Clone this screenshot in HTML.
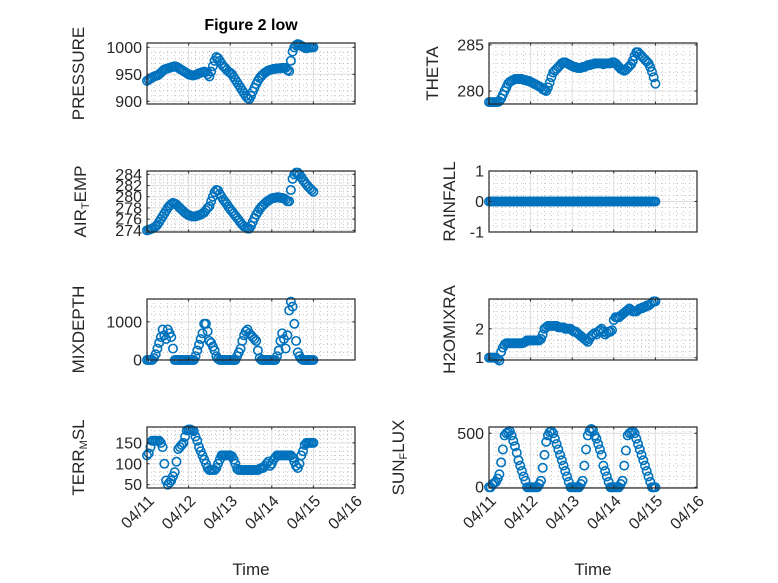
<!DOCTYPE html>
<html><head><meta charset="utf-8"><style>
body{margin:0;background:#fff;}
svg{display:block;font-family:"Liberation Sans",sans-serif;}
</style></head><body>
<svg id="fig" width="778" height="583" xmlns="http://www.w3.org/2000/svg">
<rect width="778" height="583" fill="#fff"/>
<text x="251" y="30" text-anchor="middle" font-size="16" font-weight="bold" fill="#000">Figure 2 low</text>
</svg>
<script>
const pressure=[938,940,942,944,946,947,948,
950,953,956,959,960,961,962,963,964,965,
964,962,960,958,956,954,952,950,949,948,948,
949,950,952,953,954,955,954,950,946,
955,965,975,982,
980,975,970,965,962,958,955,953,
950,945,940,935,930,925,920,915,910,906,904,
910,918,925,932,938,943,947,950,953,955,957,958,959,
960,960,961,961,961,962,962,962,958,956,
975,992,1000,1004,1006,
1005,1003,1001,999,998,999,1000,1000,1000];
const theta=[278.8,278.8,278.8,278.8,278.8,278.8,278.9,
279.2,279.6,280,280.4,280.8,281,281.1,281.2,
281.3,281.3,281.3,281.3,281.3,281.2,281.2,281.1,281.1,281,280.9,280.8,
280.7,280.6,280.5,280.4,280.2,280.1,280,280.4,
280.9,281.5,282,282.2,282.4,282.6,282.8,283,283.1,283.1,
283,282.9,282.8,282.7,282.6,282.6,282.5,282.5,282.5,282.6,
282.6,282.7,282.8,282.8,282.9,282.9,283,283,283,283,283,282.9,
283,283,283,283,283.1,283.1,283,282.8,282.6,282.4,282.3,282.2,282.3,
282.5,282.7,282.9,283.3,283.8,284.2,284.2,
284,283.8,283.6,283.4,283.2,283,282.6,282.1,281.5,280.8];
const airTemp=[274,274.1,274.2,274.3,274.5,274.7,275,
275.5,276,276.5,277,277.5,278,278.4,278.7,278.9,278.8,
278.6,278.3,278,277.7,277.4,277.1,276.9,276.7,276.6,276.5,276.5,
276.5,276.6,276.7,276.8,277,277.2,277.6,278,278.3,
279.2,280,280.8,281.2,
281.1,280.5,280,279.5,279.1,278.7,278.2,277.8,
277.4,277,276.6,276.2,275.8,275.4,275,274.7,274.5,274.3,274.3,
274.8,275.5,276.2,276.8,277.3,277.8,278.2,278.5,278.8,279.1,279.3,279.5,279.7,
279.8,279.8,279.9,279.9,279.8,279.8,279.7,279.5,279.2,279.2,
281.2,283.2,284,284.3,284.3,
284,283.5,283,282.6,282.2,281.8,281.5,281.2,280.9];
const rainfall=[0,0,0,0,0,0,0,0,0,0,0,0,0,0,0,0,0,0,0,0,0,0,0,0,
0,0,0,0,0,0,0,0,0,0,0,0,0,0,0,0,0,0,0,0,0,0,0,0,
0,0,0,0,0,0,0,0,0,0,0,0,0,0,0,0,0,0,0,0,0,0,0,0,
0,0,0,0,0,0,0,0,0,0,0,0,0,0,0,0,0,0,0,0,0,0,0,0,0];
const mixDepth=[0,0,0,0,
50,150,300,450,600,800,650,550,800,700,600,300,
0,0,0,0,0,0,0,0,0,0,0,0,
100,250,400,550,700,950,950,750,500,450,350,250,100,30,0,
0,0,0,0,0,0,0,0,0,
100,200,300,500,650,750,800,700,650,600,550,500,250,50,0,
0,0,0,0,0,0,0,0,
100,250,500,700,550,300,650,1300,1530,1400,950,500,200,100,30,0,
0,0,0,0,0,0];
const h2oMixRa=[1,1,1,1,1,0.95,0.9,
1.2,1.35,1.45,1.5,1.5,1.5,1.5,1.5,
1.5,1.5,1.5,1.5,1.5,1.52,1.55,1.6,1.6,
1.6,1.6,1.6,1.6,1.6,1.6,1.65,1.8,2.0,
2.05,2.1,2.1,2.1,2.1,2.1,2.1,2.05,2.05,2.05,2.05,2.0,2.0,
2.0,2.0,1.95,1.9,1.9,1.85,1.8,1.75,1.7,1.65,1.6,1.55,1.65,
1.75,1.8,1.85,1.8,1.9,1.95,2.0,1.9,1.8,1.85,1.9,1.9,1.95,
2.3,2.4,2.4,2.4,2.45,2.5,2.55,2.6,2.65,2.7,2.65,2.6,2.6,
2.6,2.65,2.7,2.7,2.75,2.75,2.8,2.8,2.85,2.9,2.95,2.95];
const terrMsl=[120,125,140,155,155,155,155,155,150,
140,100,60,50,55,60,70,80,
105,135,140,145,150,165,
180,182,182,180,178,
165,155,140,130,120,110,100,90,
85,85,85,85,90,100,110,
120,120,120,120,120,120,118,110,100,
88,85,85,85,85,85,85,85,85,85,85,85,85,88,90,
90,95,100,105,95,100,110,115,
120,120,120,120,120,120,120,120,120,115,105,
95,90,100,120,130,145,150,150,150,150,150];
const sunFlux=[0,0,30,40,50,80,120,230,350,480,500,510,520,480,430,380,320,250,200,150,100,60,0,0,
0,0,0,0,0,30,60,180,300,420,480,510,520,500,450,400,350,300,250,200,150,100,50,0,
0,0,0,0,0,30,60,200,350,480,520,540,530,480,450,400,350,300,200,150,100,50,0,0,
0,0,0,0,30,60,200,340,480,500,510,520,500,450,400,350,300,250,200,150,100,50,0,0,0];
const xTickLabels=["04/11","04/12","04/13","04/14","04/15","04/16"];
const pressureTicks=[900,950,1000];
const thetaTicks=[280,285];
const airTicks=[274,276,278,280,282,284];
const rainTicks=[-1,0,1];
const mixTicks=[0,1000];
const h2oTicks=[1,2];
const terrTicks=[50,100,150];
const sunTicks=[0,500];

const NS="http://www.w3.org/2000/svg";
const svg=document.getElementById('fig');
function mk(tag,attrs,parent){const e=document.createElementNS(NS,tag);for(const k in attrs)e.setAttribute(k,attrs[k]);(parent||svg).appendChild(e);return e;}
const XMIN=0,XMAX=120;
const LX=147,RX=489,W=208,H=61,TOPS=[43,171,299,427];
const panels=[
 {name:'pressure',x:LX,y:TOPS[0],ymin:895,ymax:1008,ticks:pressureTicks,minor:10,data:pressure,label:'PRESSURE',lx:84},
 {name:'theta',x:RX,y:TOPS[0],ymin:278.6,ymax:285.2,ticks:thetaTicks,minor:1,data:theta,label:'THETA',lx:438},
 {name:'air-temp',x:LX,y:TOPS[1],ymin:273.7,ymax:284.6,ticks:airTicks,minor:0.5,data:airTemp,label:'AIR<tspan baseline-shift="-25%" font-size="11">T</tspan>EMP',lx:86},
 {name:'rainfall',x:RX,y:TOPS[1],ymin:-1,ymax:1,ticks:rainTicks,minor:0.2,data:rainfall,label:'RAINFALL',lx:455},
 {name:'mixdepth',x:LX,y:TOPS[2],ymin:0,ymax:1600,ticks:mixTicks,minor:200,data:mixDepth,label:'MIXDEPTH',lx:84},
 {name:'h2omixra',x:RX,y:TOPS[2],ymin:0.92,ymax:3.03,ticks:h2oTicks,minor:0.2,data:h2oMixRa,label:'H2OMIXRA',lx:455},
 {name:'terr-msl',x:LX,y:TOPS[3],ymin:42,ymax:188,ticks:terrTicks,minor:10,data:terrMsl,label:'TERR<tspan baseline-shift="-25%" font-size="11">M</tspan><tspan baseline-shift="0%">SL</tspan>',lx:84},
 {name:'sun-flux',x:RX,y:TOPS[3],ymin:-7,ymax:558,ticks:sunTicks,minor:100,data:sunFlux,label:'SUN<tspan baseline-shift="-25%" font-size="11">F</tspan><tspan>LUX</tspan>',lx:404}
];
panels.forEach((p,pi)=>{
  const g=mk('g',{});
  
  
  const xs=t=>p.x+(t-XMIN)/(XMAX-XMIN)*W;
  const ys=v=>p.y+H-(v-p.ymin)/(p.ymax-p.ymin)*H;
  mk('rect',{x:p.x,y:p.y,width:W,height:H,fill:'#fff'},g);
  for(let t=XMIN+4;t<XMAX;t+=4){if(t%24===0)continue;mk('line',{x1:xs(t),x2:xs(t),y1:p.y,y2:p.y+H,stroke:'#b0b0b0','stroke-width':0.7,'stroke-dasharray':'1 3'},g);}
  const s=Math.ceil(p.ymin/p.minor-1e-9);
  for(let k=s;k*p.minor<=p.ymax+1e-9;k++){const v=k*p.minor;if(p.ticks.some(t=>Math.abs(t-v)<1e-6))continue;mk('line',{x1:p.x,x2:p.x+W,y1:ys(v),y2:ys(v),stroke:'#b0b0b0','stroke-width':0.7,'stroke-dasharray':'1 3'},g);}
  for(let d=1;d<xTickLabels.length-1;d++){mk('line',{x1:xs(d*24),x2:xs(d*24),y1:p.y,y2:p.y+H,stroke:'#dedede','stroke-width':1},g);}
  p.ticks.forEach(v=>{mk('line',{x1:p.x,x2:p.x+W,y1:ys(v),y2:ys(v),stroke:'#dedede','stroke-width':1},g);});
  const mg=mk('g',{fill:'none',stroke:'#0072BD','stroke-width':1.6},g);
  
  
  p.data.forEach((v,i)=>{const c=mk('circle',{cx:xs(i),cy:ys(v),r:4.2},mg);
    
    });
  mk('rect',{x:p.x,y:p.y,width:W,height:H,fill:'none',stroke:'#262626','stroke-width':1.2},g);
  for(let d=0;d<xTickLabels.length;d++){const X=xs(d*24);mk('line',{x1:X,x2:X,y1:p.y+H,y2:p.y+H-2.5,stroke:'#262626'},g);mk('line',{x1:X,x2:X,y1:p.y,y2:p.y+2.5,stroke:'#262626'},g);}
  p.ticks.forEach(v=>{const Y=ys(v);mk('line',{x1:p.x,x2:p.x+2.5,y1:Y,y2:Y,stroke:'#262626'},g);mk('line',{x1:p.x+W,x2:p.x+W-2.5,y1:Y,y2:Y,stroke:'#262626'},g);
    const tl=mk('text',{x:p.x-5,y:Y+5.5,'text-anchor':'end','font-size':16,fill:'#262626'},g);tl.textContent=String(v);
    
    });
  const yl=mk('text',{x:p.lx,y:p.y+H/2,'text-anchor':'middle','font-size':17,fill:'#262626',transform:'rotate(-90 '+p.lx+' '+(p.y+H/2)+')'},g);
  yl.innerHTML=p.label;
  
  
  if(pi>=6){
    for(let d=0;d<xTickLabels.length;d++){const X=xs(d*24)+8,Y=p.y+H+14;
      const xl=mk('text',{x:X,y:Y,'text-anchor':'end','font-size':16,fill:'#262626',transform:'rotate(-45 '+X+' '+Y+')'},g);xl.textContent=xTickLabels[d];
      
      }
    const tl=mk('text',{x:p.x+W/2,y:575,'text-anchor':'middle','font-size':17,fill:'#262626'},g);tl.textContent='Time';
    
    
  }
});
</script>
</body></html>
